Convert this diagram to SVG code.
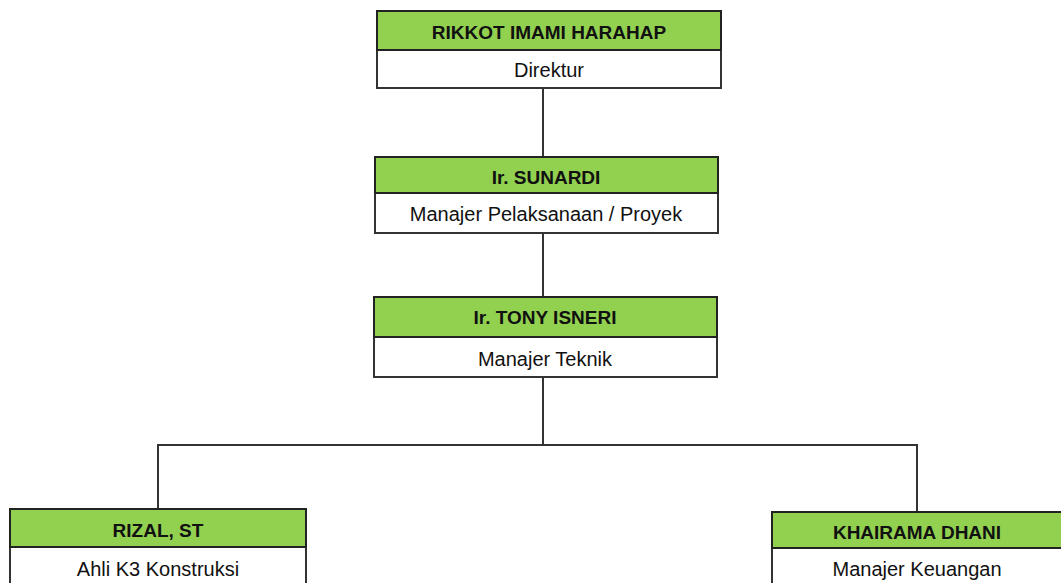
<svg xmlns="http://www.w3.org/2000/svg" width="1061" height="583" viewBox="0 0 1061 583">
<style>
.hd{fill:#92D050;stroke:#222;stroke-width:2}
.bd{fill:#fff;stroke:#333;stroke-width:2}
.t{font-family:"Liberation Sans",Arial,sans-serif;font-size:20px;fill:#111;text-anchor:middle}
.b{font-weight:bold;font-size:19px}
.c{fill:none;stroke:#333;stroke-width:2}
</style>
<rect width="1061" height="583" fill="#fff"/>
<g id="connectors">
<line class="c" x1="543" y1="88" x2="543" y2="157"/>
<line class="c" x1="543" y1="233" x2="543" y2="297"/>
<line class="c" x1="543" y1="377" x2="543" y2="445"/>
<polyline class="c" points="158,509 158,445 917,445 917,512"/>
</g>
<g id="n1">
<rect class="bd" x="377" y="50" width="344" height="38"/>
<rect class="hd" x="377" y="11" width="344" height="39"/>
<text class="t b" x="549" y="39">RIKKOT IMAMI HARAHAP</text>
<text class="t" x="549" y="77">Direktur</text>
</g>
<g id="n2">
<rect class="bd" x="375" y="193" width="343" height="40"/>
<rect class="hd" x="375" y="157" width="343" height="36"/>
<text class="t b" x="546" y="184">Ir. SUNARDI</text>
<text class="t" x="546" y="221">Manajer Pelaksanaan / Proyek</text>
</g>
<g id="n3">
<rect class="bd" x="374" y="337" width="343" height="40"/>
<rect class="hd" x="374" y="297" width="343" height="40"/>
<text class="t b" x="545" y="324">Ir. TONY ISNERI</text>
<text class="t" x="545" y="366">Manajer Teknik</text>
</g>
<g id="n4">
<rect class="bd" x="10" y="547" width="296" height="50"/>
<rect class="hd" x="10" y="509" width="296" height="38"/>
<text class="t b" x="158" y="537">RIZAL, ST</text>
<text class="t" x="158" y="576">Ahli K3 Konstruksi</text>
</g>
<g id="n5">
<rect class="bd" x="772" y="548" width="300" height="50"/>
<rect class="hd" x="772" y="512" width="300" height="36"/>
<text class="t b" x="917" y="539">KHAIRAMA DHANI</text>
<text class="t" x="917" y="576">Manajer Keuangan</text>
</g>
</svg>
